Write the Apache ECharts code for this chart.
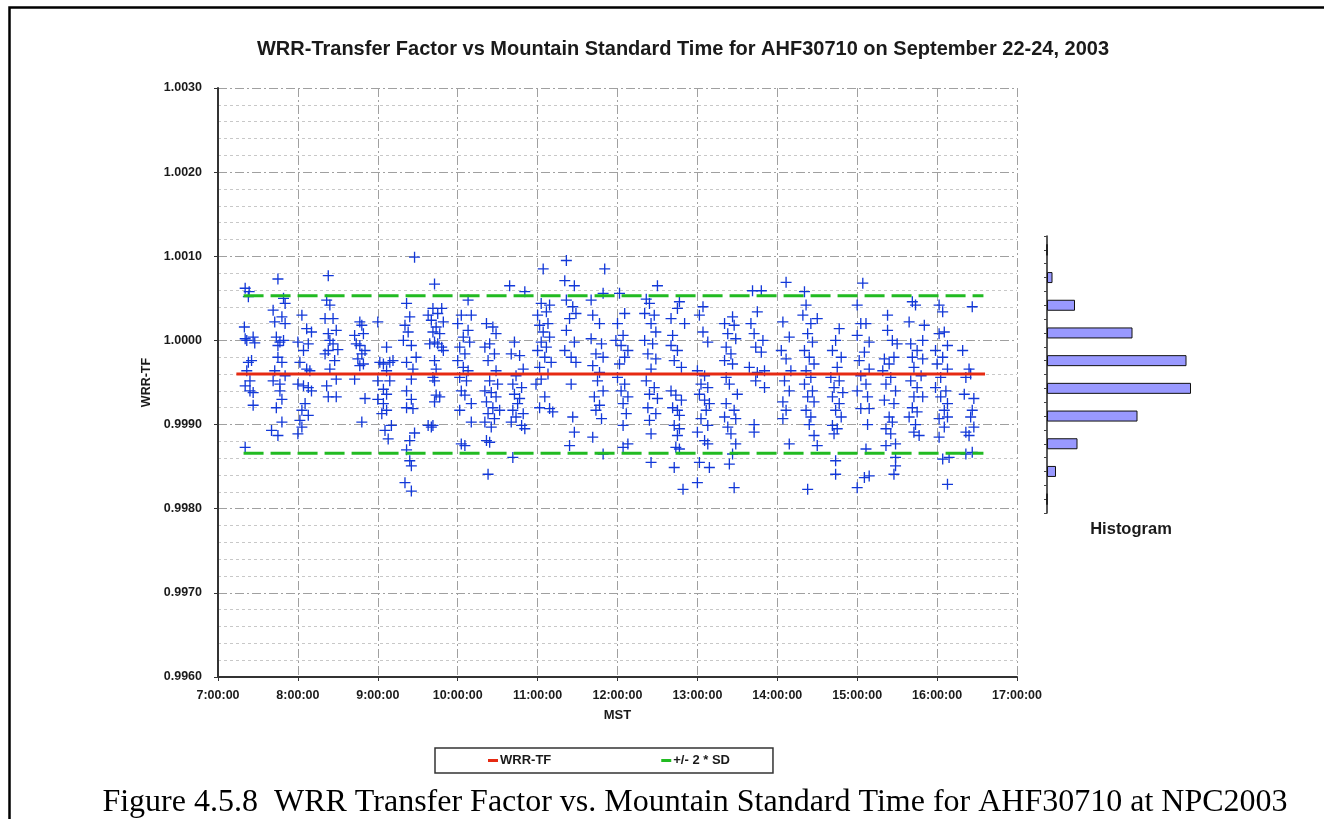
<!DOCTYPE html>
<html>
<head>
<meta charset="utf-8">
<script src="https://cdn.jsdelivr.net/npm/echarts@6/dist/echarts.min.js"></script>
<style>
  html, body { margin: 0; padding: 0; background: #fff; }
  #chart { width: 1324px; height: 819px; }
</style>
</head>
<body>
<div id="chart"></div>
<script>
const FONT = 'Liberation Sans, Arial, sans-serif'
const TEXT_COLOR = '#1a1a1a'
const GRID_MAJOR = '#a0a0a0'
const GRID_MINOR = '#c8c8c8'

// [MST hours, WRR-TF], column by column
const wrrPoints = [
  [7.34,1.00062],[7.39,1.00058],[7.38,1.00052],[7.33,1.00016],[7.34,1.00002],[7.44,1.00004],[7.46,0.99997],[7.36,1.00000],[7.42,0.99976],[7.38,0.99974],[7.36,0.99964],[7.40,0.99952],[7.34,0.99946],[7.40,0.99940],[7.44,0.99938],[7.44,0.99923],[7.34,0.99873],
  [7.75,1.00073],[7.82,1.00050],[7.84,1.00044],[7.69,1.00036],[7.80,1.00028],[7.71,1.00022],[7.84,1.00020],[7.73,1.00004],[7.775,0.99998],[7.82,1.00000],[7.75,0.99994],[7.75,0.99980],[7.80,0.99974],[7.71,0.99964],[7.84,0.99958],[7.69,0.99952],[7.775,0.99948],[7.775,0.99940],[7.80,0.99930],[7.73,0.99920],[7.80,0.99903],[7.67,0.99893],[7.75,0.99887],
  [8.05,1.00030],[8.11,1.00014],[8.17,1.00010],[8.00,0.99998],[8.13,0.99996],[8.07,0.99988],[8.025,0.99974],[8.11,0.99966],[8.15,0.99964],[8.00,0.99948],[8.07,0.99946],[8.13,0.99944],[8.17,0.99940],[8.09,0.99925],[8.05,0.99917],[8.13,0.99911],[8.025,0.99905],[8.05,0.99897],[8.00,0.99889],
  [8.38,1.00077],[8.36,1.00048],[8.40,1.00042],[8.34,1.00026],[8.44,1.00026],[8.48,1.00012],[8.38,1.00008],[8.40,1.00000],[8.44,0.99996],[8.50,0.99989],[8.34,0.99984],[8.38,0.99988],[8.46,0.99976],[8.40,0.99966],[8.48,0.99954],[8.36,0.99946],[8.38,0.99933],[8.48,0.99933],
  [8.775,1.00022],[8.80,1.00018],[8.71,1.00006],[8.82,1.00008],[8.73,0.99996],[8.775,0.99994],[8.80,0.99984],[8.84,0.99988],[8.75,0.99978],[8.82,0.99972],[8.775,0.99970],[8.71,0.99954],[8.84,0.99931],[8.80,0.99903],
  [9.00,1.00022],[9.11,0.99992],[9.025,0.99974],[9.07,0.99972],[9.15,0.99974],[9.19,0.99976],[9.11,0.99964],[9.00,0.99952],[9.15,0.99952],[9.07,0.99942],[9.11,0.99936],[9.00,0.99930],[9.07,0.99925],[9.11,0.99917],[9.05,0.99913],[9.17,0.99899],[9.09,0.99893],[9.13,0.99883],
  [9.46,1.00099],[9.36,1.00044],[9.40,1.00028],[9.34,1.00018],[9.38,1.00010],[9.32,1.00000],[9.42,0.99994],[9.48,0.99980],[9.36,0.99974],[9.44,0.99966],[9.42,0.99954],[9.36,0.99940],[9.36,0.99920],[9.44,0.99919],[9.42,0.99930],[9.46,0.99890],[9.40,0.99881],[9.36,0.99870],[9.40,0.99857],[9.42,0.99851],[9.34,0.99831],[9.42,0.99821],
  [9.63,1.00030],[9.63,0.99899],
  [9.71,1.00067],[9.69,1.00038],[9.80,1.00038],[9.75,1.00032],[9.67,1.00024],[9.82,1.00022],[9.73,1.00016],[9.69,1.00010],[9.775,1.00008],[9.71,0.99998],[9.65,0.99996],[9.80,0.99992],[9.75,0.99996],[9.82,0.99988],[9.71,0.99976],[9.73,0.99966],[9.69,0.99956],[9.71,0.99952],[9.73,0.99935],[9.775,0.99933],[9.71,0.99927],[9.69,0.99899],[9.67,0.99897],
  [10.13,1.00048],[10.045,1.00030],[10.17,1.00030],[10.00,1.00020],[10.13,1.00012],[10.07,1.00004],[10.15,0.99998],[10.025,0.99992],[10.09,0.99984],[10.00,0.99976],[10.07,0.99968],[10.13,0.99964],[10.025,0.99956],[10.11,0.99952],[10.045,0.99940],[10.09,0.99935],[10.17,0.99925],[10.025,0.99917],[10.17,0.99903],[10.045,0.99877],[10.09,0.99875],
  [10.36,1.00020],[10.44,1.00016],[10.48,1.00008],[10.40,0.99996],[10.34,0.99992],[10.46,0.99984],[10.38,0.99976],[10.48,0.99964],[10.40,0.99952],[10.50,0.99948],[10.34,0.99940],[10.42,0.99938],[10.48,0.99933],[10.36,0.99927],[10.44,0.99920],[10.525,0.99917],[10.38,0.99913],[10.46,0.99907],[10.34,0.99903],[10.42,0.99897],[10.36,0.99881],[10.40,0.99879],[10.38,0.99841],
  [10.65,1.00065],[10.84,1.00058],[10.71,0.99998],[10.67,0.99984],[10.775,0.99982],[10.82,0.99966],[10.73,0.99958],[10.69,0.99948],[10.80,0.99944],[10.71,0.99936],[10.775,0.99931],[10.75,0.99925],[10.69,0.99917],[10.82,0.99913],[10.73,0.99909],[10.67,0.99903],[10.80,0.99899],[10.84,0.99895],[10.69,0.99861],
  [11.07,1.00085],[11.045,1.00044],[11.15,1.00042],[11.00,1.00030],[11.11,1.00034],[11.025,1.00018],[11.13,1.00020],[11.07,1.00010],[11.15,1.00004],[11.045,0.99998],[11.11,0.99992],[11.00,0.99988],[11.09,0.99980],[11.17,0.99974],[11.025,0.99968],[11.13,0.99960],[11.045,0.99954],[10.98,0.99948],[11.09,0.99933],[11.025,0.99920],[11.15,0.99919],[11.19,0.99915],
  [11.36,1.00095],[11.34,1.00071],[11.46,1.00065],[11.36,1.00048],[11.44,1.00040],[11.40,1.00026],[11.48,1.00032],[11.36,1.00012],[11.46,0.99998],[11.34,0.99988],[11.42,0.99980],[11.48,0.99974],[11.42,0.99948],[11.44,0.99909],[11.46,0.99891],[11.40,0.99875],
  [11.84,1.00085],[11.82,1.00056],[11.67,1.00048],[11.69,1.00030],[11.775,1.00020],[11.67,1.00002],[11.80,0.99996],[11.73,0.99984],[11.82,0.99980],[11.69,0.99970],[11.775,0.99962],[11.75,0.99952],[11.82,0.99940],[11.71,0.99933],[11.775,0.99923],[11.73,0.99917],[11.80,0.99907],[11.69,0.99885],[11.82,0.99865],
  [12.025,1.00056],[12.09,1.00032],[12.00,1.00020],[12.07,1.00006],[11.98,1.00000],[12.045,0.99994],[12.13,0.99988],[12.09,0.99980],[12.025,0.99972],[12.00,0.99956],[12.09,0.99948],[12.045,0.99940],[12.13,0.99933],[12.07,0.99925],[12.11,0.99913],[12.07,0.99899],[12.13,0.99877],[12.07,0.99873],
  [12.50,1.00065],[12.36,1.00049],[12.40,1.00044],[12.34,1.00032],[12.46,1.00030],[12.42,1.00020],[12.48,1.00010],[12.34,1.00000],[12.44,0.99996],[12.38,0.99984],[12.48,0.99978],[12.42,0.99966],[12.36,0.99952],[12.46,0.99944],[12.40,0.99936],[12.50,0.99931],[12.38,0.99920],[12.48,0.99913],[12.40,0.99905],[12.42,0.99889],[12.42,0.99855],
  [12.775,1.00046],[12.75,1.00038],[12.67,1.00026],[12.84,1.00020],[12.69,1.00006],[12.67,0.99994],[12.75,0.99988],[12.71,0.99976],[12.80,0.99968],[12.67,0.99940],[12.73,0.99935],[12.80,0.99929],[12.69,0.99920],[12.75,0.99917],[12.775,0.99911],[12.71,0.99899],[12.775,0.99895],[12.75,0.99887],[12.73,0.99873],[12.775,0.99871],[12.71,0.99849],[12.82,0.99823],
  [13.07,1.00040],[13.025,1.00030],[13.07,1.00010],[13.13,0.99998],[13.00,0.99964],[13.09,0.99958],[13.045,0.99948],[13.13,0.99944],[13.025,0.99936],[13.09,0.99929],[13.15,0.99925],[13.11,0.99917],[13.045,0.99907],[13.13,0.99899],[13.00,0.99891],[13.09,0.99881],[13.13,0.99877],[13.025,0.99855],[13.15,0.99849],[13.00,0.99831],
  [13.44,1.00028],[13.34,1.00020],[13.46,1.00018],[13.38,1.00008],[13.48,1.00002],[13.36,0.99992],[13.42,0.99984],[13.34,0.99976],[13.44,0.99972],[13.36,0.99956],[13.40,0.99948],[13.50,0.99936],[13.36,0.99925],[13.46,0.99917],[13.34,0.99909],[13.48,0.99907],[13.38,0.99897],[13.42,0.99889],[13.48,0.99877],[13.44,0.99865],[13.40,0.99853],[13.46,0.99825],
  [13.69,1.00059],[13.80,1.00059],[13.75,1.00034],[13.67,1.00020],[13.71,1.00008],[13.82,1.00000],[13.73,0.99992],[13.80,0.99986],[13.65,0.99968],[13.75,0.99962],[13.84,0.99964],[13.73,0.99952],[13.84,0.99944],[13.71,0.99900],[13.71,0.99891],
  [14.11,1.00069],[14.07,1.00022],[14.15,1.00004],[14.05,0.99988],[14.11,0.99978],[14.17,0.99964],[14.09,0.99952],[14.15,0.99940],[14.07,0.99927],[14.11,0.99917],[14.07,0.99907],[14.15,0.99877],
  [14.34,1.00058],[14.36,1.00042],[14.32,1.00030],[14.42,1.00020],[14.50,1.00026],[14.38,1.00008],[14.44,0.99998],[14.34,0.99988],[14.40,0.99980],[14.46,0.99972],[14.36,0.99964],[14.42,0.99956],[14.34,0.99948],[14.44,0.99940],[14.38,0.99933],[14.46,0.99927],[14.36,0.99917],[14.42,0.99909],[14.40,0.99900],[14.46,0.99887],[14.50,0.99875],[14.38,0.99823],
  [14.775,1.00014],[14.73,1.00000],[14.69,0.99988],[14.80,0.99980],[14.75,0.99968],[14.67,0.99956],[14.775,0.99952],[14.71,0.99944],[14.82,0.99938],[14.69,0.99933],[14.775,0.99925],[14.73,0.99917],[14.80,0.99909],[14.69,0.99899],[14.75,0.99895],[14.71,0.99889],[14.73,0.99857],[14.73,0.99841],
  [15.07,1.00068],[15.00,1.00042],[15.045,1.00020],[15.11,1.00020],[15.00,1.00006],[15.15,0.99998],[15.09,0.99986],[15.025,0.99976],[15.15,0.99966],[15.045,0.99958],[15.11,0.99948],[15.00,0.99940],[15.13,0.99933],[15.045,0.99919],[15.15,0.99919],[15.13,0.99900],[15.11,0.99871],[15.09,0.99837],[15.15,0.99839],[15.00,0.99825],
  [15.38,1.00030],[15.38,1.00012],[15.44,1.00000],[15.50,0.99996],[15.34,0.99978],[15.46,0.99980],[15.40,0.99972],[15.32,0.99964],[15.42,0.99956],[15.36,0.99948],[15.48,0.99940],[15.34,0.99929],[15.46,0.99925],[15.40,0.99909],[15.44,0.99903],[15.36,0.99895],[15.42,0.99889],[15.48,0.99877],[15.36,0.99875],[15.48,0.99861],[15.48,0.99851],[15.46,0.99841],
  [15.69,1.00046],[15.73,1.00042],[15.65,1.00022],[15.84,1.00018],[15.82,1.00000],[15.67,0.99996],[15.75,0.99988],[15.69,0.99980],[15.82,0.99978],[15.71,0.99968],[15.80,0.99958],[15.67,0.99952],[15.75,0.99944],[15.71,0.99933],[15.82,0.99933],[15.69,0.99920],[15.75,0.99915],[15.65,0.99909],[15.73,0.99900],[15.71,0.99891],[15.775,0.99887],
  [16.025,1.00042],[16.07,1.00034],[16.025,1.00008],[16.09,1.00010],[16.13,0.99994],[15.98,0.99988],[16.07,0.99980],[16.00,0.99972],[16.13,0.99966],[16.045,0.99956],[15.98,0.99944],[16.11,0.99940],[16.045,0.99933],[16.13,0.99925],[16.09,0.99917],[16.025,0.99907],[16.13,0.99909],[16.09,0.99897],[16.025,0.99885],[16.07,0.99859],[16.15,0.99861],[16.13,0.99829],
  [16.44,1.00040],[16.32,0.99988],[16.40,0.99966],[16.36,0.99956],[16.42,0.99960],[16.34,0.99936],[16.46,0.99931],[16.44,0.99917],[16.42,0.99909],[16.36,0.99891],[16.46,0.99897],[16.40,0.99887],[16.36,0.99865],[16.44,0.99867]
]

// mean and +/- 2 SD reference lines
const meanTf = 0.9996
const sdUpper = 1.00053
const sdLower = 0.99866
const meanSpan = [7.23, 16.6]
const sdSpan = [7.32, 16.58]

// histogram (bins are 1 SD wide, top = highest TF)
const histBins = ['1.00109', '1.00076', '1.00043', '1.00010', '0.99977', '0.99944', '0.99911', '0.99878', '0.99845', '0.99812']
const histCounts = [0, 11, 56, 171, 279, 288, 181, 61, 18, 0]
const histTickSlots = Array.from({ length: 20 }, () => '')

const plusSymbol = 'path://M4.4,0H5.6V4.4H10V5.6H5.6V10H4.4V5.6H0V4.4H4.4Z'
const dashDot = [9, 3, 2, 3]

const chart = echarts.init(document.getElementById('chart'), null, { renderer: 'canvas' })

chart.setOption({
  animation: false,
  backgroundColor: '#fff',
  textStyle: { fontFamily: FONT },
  title: [
    {
      text: 'WRR-Transfer Factor vs Mountain Standard Time for AHF30710 on September 22-24, 2003',
      left: 678,
      top: 34,
      textAlign: 'center',
      textStyle: { fontFamily: FONT, fontSize: 20, fontWeight: 'bold', color: TEXT_COLOR }
    },
    {
      text: 'Histogram',
      left: 1126,
      top: 516,
      textAlign: 'center',
      textStyle: { fontFamily: FONT, fontSize: 16.5, fontWeight: 'bold', color: TEXT_COLOR }
    },
    {
      text: 'Figure 4.5.8  WRR Transfer Factor vs. Mountain Standard Time for AHF30710 at NPC2003',
      left: 690,
      top: 782,
      textAlign: 'center',
      textStyle: { fontFamily: 'Liberation Serif, Times New Roman, serif', fontSize: 32, fontWeight: 'normal', color: '#000' }
    }
  ],
  legend: {
    data: ['WRR-TF', '+/- 2 * SD'],
    left: 435,
    top: 748,
    orient: 'horizontal',
    padding: [6, 43, 6, 53],
    itemGap: 110,
    itemWidth: 10,
    itemHeight: 3,
    icon: 'rect',
    borderColor: '#333',
    borderWidth: 1.5,
    textStyle: { fontFamily: FONT, fontSize: 13, fontWeight: 'bold', color: TEXT_COLOR, padding: [0, 0, 0, -3] }
  },
  grid: [
    { left: 218, top: 88, width: 799, height: 589 },
    { left: 1047, top: 236, width: 150, height: 277 }
  ],
  xAxis: [
    {
      gridIndex: 0,
      type: 'value',
      min: 7,
      max: 17,
      interval: 1,
      name: 'MST',
      nameLocation: 'middle',
      nameGap: 32,
      nameTextStyle: { fontFamily: FONT, fontSize: 13, fontWeight: 'bold', color: TEXT_COLOR },
      axisLine: { show: true, onZero: false, lineStyle: { color: '#333', width: 2 } },
      axisTick: { show: true, inside: false, length: 4, lineStyle: { color: '#333' } },
      axisLabel: {
        margin: 12,
        fontFamily: FONT,
        fontSize: 12.5,
        fontWeight: 'bold',
        color: TEXT_COLOR,
        formatter: (v) => `${v}:00:00`
      },
      splitLine: { show: true, lineStyle: { color: GRID_MAJOR, type: dashDot, width: 1 } }
    },
    {
      gridIndex: 1,
      type: 'value',
      min: 0,
      max: 300,
      show: false
    }
  ],
  yAxis: [
    {
      gridIndex: 0,
      type: 'value',
      min: 0.996,
      max: 1.003,
      interval: 0.001,
      name: 'WRR-TF',
      nameLocation: 'middle',
      nameGap: 63,
      nameRotate: 90,
      nameTextStyle: { fontFamily: FONT, fontSize: 12.5, fontWeight: 'bold', color: TEXT_COLOR },
      axisLine: { show: true, onZero: false, lineStyle: { color: '#333', width: 2 } },
      axisTick: { show: true, inside: false, length: 4, lineStyle: { color: '#333' } },
      axisLabel: {
        margin: 16,
        fontFamily: FONT,
        fontSize: 12.5,
        fontWeight: 'bold',
        color: TEXT_COLOR,
        formatter: (v) => v.toFixed(4)
      },
      splitLine: { show: true, lineStyle: { color: GRID_MAJOR, type: dashDot, width: 1 } },
      minorTick: { show: false, splitNumber: 5 },
      minorSplitLine: { show: true, lineStyle: { color: GRID_MINOR, type: [3, 3], width: 1 } }
    },
    {
      gridIndex: 1,
      type: 'category',
      data: histBins,
      inverse: true,
      axisLine: { show: true, lineStyle: { color: '#222', width: 1.5 } },
      axisTick: { show: false },
      axisLabel: { show: false },
      splitLine: { show: false }
    },
    {
      // only draws the fine tick marks along the histogram axis
      gridIndex: 1,
      type: 'category',
      data: histTickSlots,
      position: 'left',
      axisLine: { show: false },
      axisTick: { show: true, inside: false, length: 3, interval: 0, lineStyle: { color: '#444' } },
      axisLabel: { show: false },
      splitLine: { show: false }
    }
  ],
  series: [
    {
      name: 'WRR-TF data',
      type: 'scatter',
      xAxisIndex: 0,
      yAxisIndex: 0,
      symbol: plusSymbol,
      symbolSize: 11,
      itemStyle: { color: '#1238d8', opacity: 1 },
      data: wrrPoints,
      z: 2
    },
    {
      name: 'WRR-TF',
      type: 'line',
      xAxisIndex: 0,
      yAxisIndex: 0,
      symbol: 'none',
      silent: true,
      lineStyle: { color: '#e62a12', width: 3 },
      itemStyle: { color: '#e62a12' },
      data: meanSpan.map((h) => [h, meanTf]),
      z: 4
    },
    {
      name: '+/- 2 * SD',
      type: 'line',
      xAxisIndex: 0,
      yAxisIndex: 0,
      symbol: 'none',
      silent: true,
      lineStyle: { color: '#22bb22', width: 3, type: [20, 7] },
      itemStyle: { color: '#22bb22' },
      data: sdSpan.map((h) => [h, sdUpper]),
      z: 3
    },
    {
      name: '+/- 2 * SD',
      type: 'line',
      xAxisIndex: 0,
      yAxisIndex: 0,
      symbol: 'none',
      silent: true,
      lineStyle: { color: '#22bb22', width: 3, type: [20, 7] },
      itemStyle: { color: '#22bb22' },
      data: sdSpan.map((h) => [h, sdLower]),
      z: 3
    },
    {
      name: 'Histogram',
      type: 'bar',
      xAxisIndex: 1,
      yAxisIndex: 1,
      barWidth: 11,
      itemStyle: { color: '#9999ff', borderColor: '#111', borderWidth: 1 },
      data: histCounts
    }
  ],
  graphic: [
    {
      type: 'rect',
      shape: { x: 9.5, y: 7.5, width: 1400, height: 900 },
      style: { fill: 'none', stroke: '#000', lineWidth: 2.5 },
      silent: true
    }
  ]
})
</script>
</body>
</html>
